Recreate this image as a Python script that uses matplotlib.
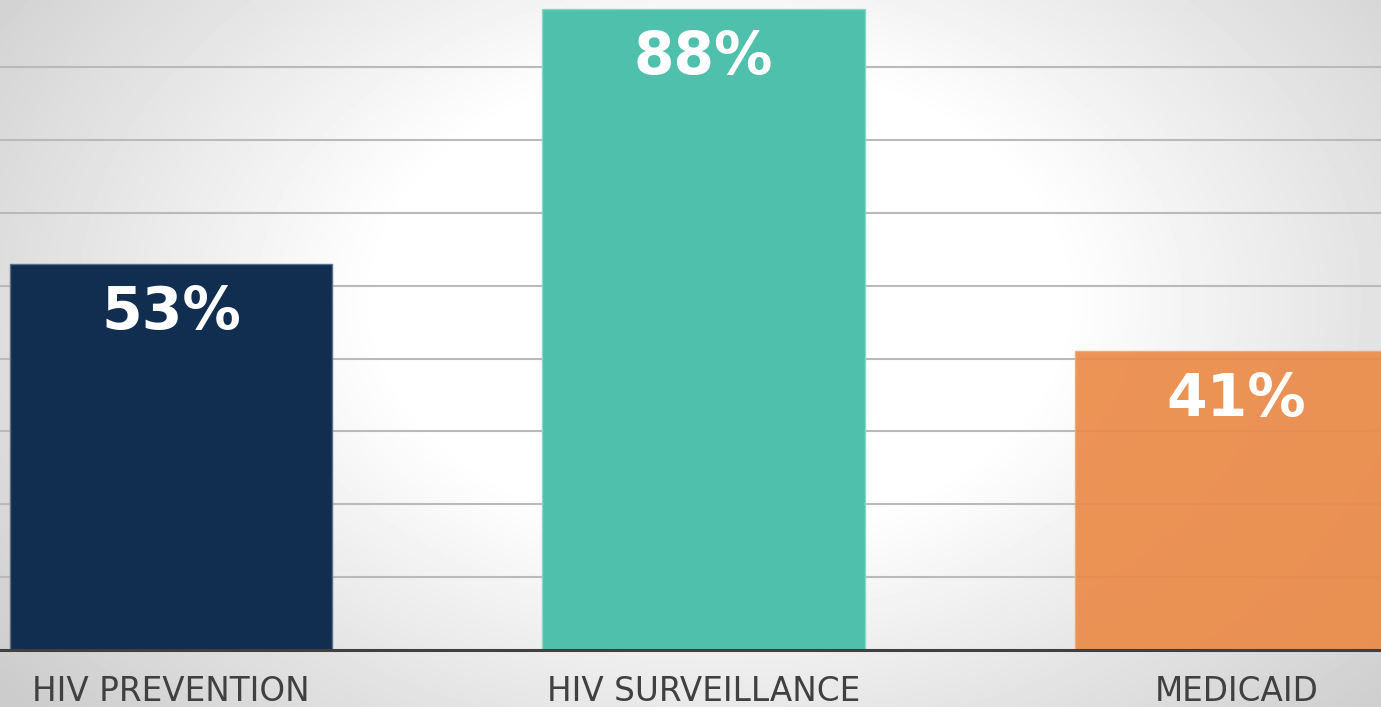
import numpy as np
import matplotlib
matplotlib.use("Agg")
import matplotlib.pyplot as plt

categories = ["HIV PREVENTION", "HIV SURVEILLANCE", "MEDICAID"]
values = [53, 88, 41]
labels = ["53%", "88%", "41%"]
colors = ["#112d4f", "#4ec0ab", "#eb8a48"]
edges = ["#5a6f88", "#8ad6c7", "#f0a878"]

fig = plt.figure(figsize=(13.81, 7.07), dpi=100)

# radial grey-to-white background
bg = fig.add_axes([0, 0, 1, 1], zorder=0)
gx, gy = np.meshgrid(np.linspace(0, 1381, 400), np.linspace(0, 707, 200))
r = np.sqrt(((gx - 720) / 760) ** 2 + ((gy - 300) / 520) ** 2)
shade = 1 - 0.2 * np.clip((r - 0.45) / 0.75, 0, 1)
bg.imshow(shade, cmap="gray", vmin=0, vmax=1, extent=[0, 1, 0, 1],
          aspect="auto", interpolation="bicubic")
bg.axis("off")

ax = fig.add_axes([0, 57 / 707, 1, 650 / 707], zorder=1)
ax.patch.set_alpha(0)
x = np.arange(len(categories))
ax.bar(x, values, width=0.605, color=colors, edgecolor=edges, linewidth=1, zorder=3)
ax.patches[2].set_alpha(0.92)

for xi, v, lab in zip(x, values, labels):
    ax.annotate(lab, (xi, v), xytext=(0, -35), textcoords="offset points",
                ha="center", va="center", color="white", fontsize=42,
                fontweight="bold", zorder=4)

ax.set_xlim(-0.321, 2.272)
ax.set_ylim(0, 89.2)
ax.set_yticks(np.arange(10, 90, 10))
ax.yaxis.grid(True, color="#bababa", linewidth=1.5, zorder=1)
ax.set_axisbelow(True)
ax.tick_params(axis="y", left=False, labelleft=False)
ax.tick_params(axis="x", length=0, pad=18, labelsize=23.5, labelcolor="#404040")
ax.set_xticks(x)
ax.set_xticklabels(categories)
for s in ["top", "left", "right"]:
    ax.spines[s].set_visible(False)
ax.spines["bottom"].set_color("#404040")
ax.spines["bottom"].set_linewidth(2.2)
ax.spines["bottom"].set_zorder(5)

fig.savefig("out.png", dpi=100)
